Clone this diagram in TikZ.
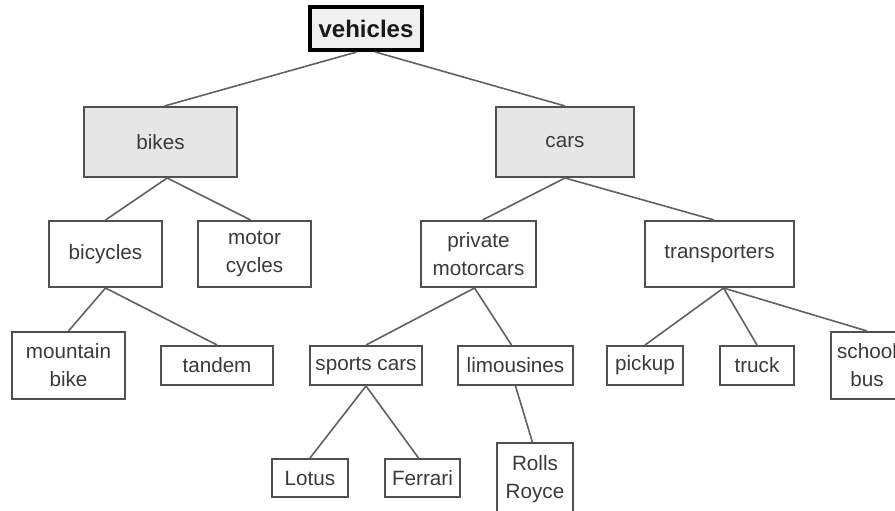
\documentclass[tikz,border=0pt]{standalone}
\usepackage{fontspec}
\setmainfont{Liberation Sans}
\definecolor{edge}{HTML}{505050}
\definecolor{ink}{HTML}{3A3A3A}
\definecolor{shade}{HTML}{E6E6E6}
\begin{document}
\begin{tikzpicture}[x=0.75pt,y=-0.75pt,
  wh/.style 2 args={minimum width=#1*0.75pt, minimum height=#2*0.75pt},
  box/.style={draw=edge, line width=1.5pt, fill=white, inner sep=0pt,
    align=center, text=ink, font=\fontsize{15.5}{21}\selectfont},
  group/.style={box, fill=shade},
  root/.style={draw=black, line width=3pt, fill=shade!60, inner sep=0pt,
    text=black!90, font=\fontsize{18}{22}\selectfont\bfseries},
  link/.style={draw=edge!90, line width=1.2pt}]
\useasboundingbox (0,0) rectangle (895,510);
\fill[white] (0,0) rectangle (895,510);

% top level
\node[root, wh={112}{43}] (vehicles) at (366,28.5) {vehicles};
% categories
\node[group, wh={153}{70}] (bikes) at (160.5,142) {bikes};
\node[group, wh={138}{70}] (cars)  at (565,142) {cars};
% second level
\node[box, wh={113}{66}] (bicycles)     at (105.5,254) {bicycles};
\node[box, wh={113}{66}] (motorcycles)  at (254.5,254) {motor\\cycles};
\node[box, wh={115}{66}] (private)      at (478.5,254) {private\\motorcars};
\node[box, wh={149}{66}] (transporters) at (719.5,254) {transporters};
% third level
\node[box, wh={113}{67}] (mountain) at (68.5,365.5) {mountain\\bike};
\node[box, wh={112}{39}] (tandem)   at (217,365.5) {tandem};
\node[box, wh={112}{39}] (sports)   at (366,365.5) {sports cars};
\node[box, wh={115}{39}] (limo)     at (515.5,365.5) {limousines};
\node[box, wh={76}{39}]  (pickup)   at (645,365.5) {pickup};
\node[box, wh={74}{39}]  (truck)    at (757,365.5) {truck};
\node[box, wh={72}{67}]  (school)   at (867,365.5) {school\\bus};
% fourth level
\node[box, wh={76}{38}] (lotus)   at (310,478) {Lotus};
\node[box, wh={75}{38}] (ferrari) at (422.5,478) {Ferrari};
\node[box, wh={76}{72}] (rolls)   at (535,479) {Rolls\\Royce};

% connectors
\draw[link] ([xshift=-7pt]vehicles.south) -- ([xshift=3pt]bikes.north);
\draw[link] ([xshift=7pt]vehicles.south) -- (cars.north);
\draw[link] ([xshift=5pt]bikes.south) -- (bicycles.north);
\draw[link] ([xshift=5pt]bikes.south) -- ([xshift=-3pt]motorcycles.north);
\draw[link] (cars.south) -- ([xshift=3pt]private.north);
\draw[link] (cars.south) -- ([xshift=-4pt]transporters.north);
\draw[link] (bicycles.south) -- (mountain.north);
\draw[link] (bicycles.south) -- (tandem.north);
\draw[link] ([xshift=-3pt]private.south) -- (sports.north);
\draw[link] ([xshift=-3pt]private.south) -- ([xshift=-3pt]limo.north);
\draw[link] ([xshift=3pt]transporters.south) -- (pickup.north);
\draw[link] ([xshift=3pt]transporters.south) -- (truck.north);
\draw[link] ([xshift=3pt]transporters.south) -- (school.north);
\draw[link] (sports.south) -- (lotus.north);
\draw[link] (sports.south) -- ([xshift=-3pt]ferrari.north);
\draw[link] (limo.south) -- ([xshift=-2pt]rolls.north);
\end{tikzpicture}
\end{document}
